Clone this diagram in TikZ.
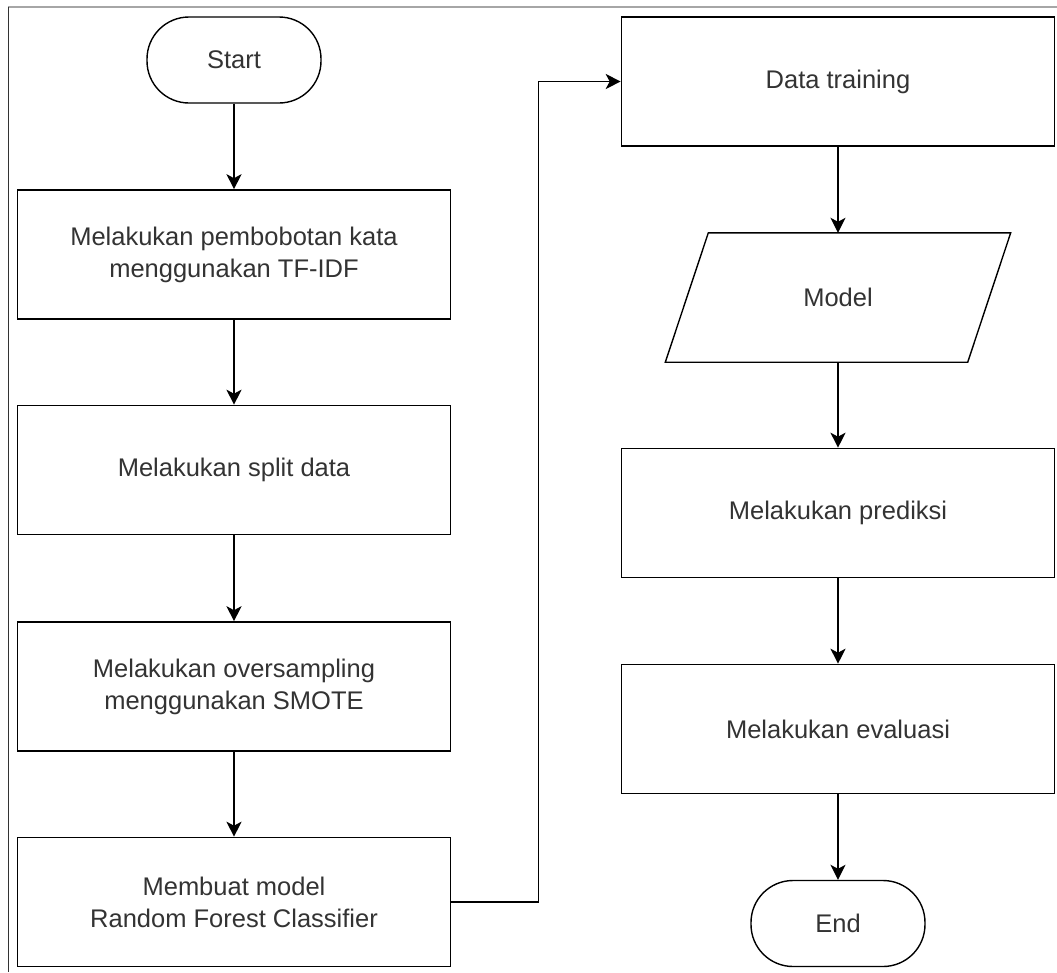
\documentclass[tikz,border=0pt]{standalone}
\usepackage{fontspec}
\setmainfont{Liberation Sans}
\usetikzlibrary{arrows.meta}

\begin{document}
\begin{tikzpicture}[x=1pt,y=-1pt,
        every node/.style={font=\fontsize{25.5}{32}\selectfont,text=black!80,align=center,inner sep=0pt},
        procbox/.style={draw=black,line width=1.6pt,minimum width=433pt,minimum height=129pt},
        termbox/.style={draw=black,line width=1.4pt,rounded corners=42pt,minimum width=174pt,minimum height=86pt},
        iobox/.style={minimum width=302pt,minimum height=129pt},
        flow/.style={line width=1.6pt,-{Stealth[length=15pt,width=15pt,inset=4pt]}}]
        % Draw frame
        \useasboundingbox (0,0) rectangle (1057,972);
        \draw[gray!70,line width=1.5pt] (8,7) -- (1057,7);
        \draw[black!80,line width=1pt] (8,7) -- (8,972);
        % Draw left column
        \node[termbox] (start) at (234,60) {Start};
        \node[procbox] (tfidf) at (234,254.5) {Melakukan pembobotan kata\\menggunakan TF-IDF};
        \node[procbox] (split) at (234,470) {Melakukan split data};
        \node[procbox] (smote) at (234,686.5) {Melakukan oversampling\\menggunakan SMOTE};
        \node[procbox] (rfc) at (234,902) {Membuat model\\Random Forest Classifier};
        % Draw right column
        \node[procbox] (train) at (838,81.5) {Data training};
        \node[iobox] (model) at (838,297.5) {Model};
        \draw[line width=1.4pt] ([xshift=-21.5pt]model.south west) -- ([xshift=21.5pt]model.north west)
            -- ([xshift=21.5pt]model.north east) -- ([xshift=-21.5pt]model.south east) -- cycle;
        \node[procbox] (pred) at (838,513) {Melakukan prediksi};
        \node[procbox] (eval) at (838,729) {Melakukan evaluasi};
        \node[termbox] (end) at (838,923.5) {End};
        % Draw arrows
        \draw[flow] (start) -- (tfidf);
        \draw[flow] (tfidf) -- (split);
        \draw[flow] (split) -- (smote);
        \draw[flow] (smote) -- (rfc);
        \draw[flow] (rfc.east) -- ++(87,0) |- (train.west);
        \draw[flow] (train) -- (model);
        \draw[flow] (model) -- (pred);
        \draw[flow] (pred) -- (eval);
        \draw[flow] (eval) -- (end);
    \end{tikzpicture}
\end{document}
